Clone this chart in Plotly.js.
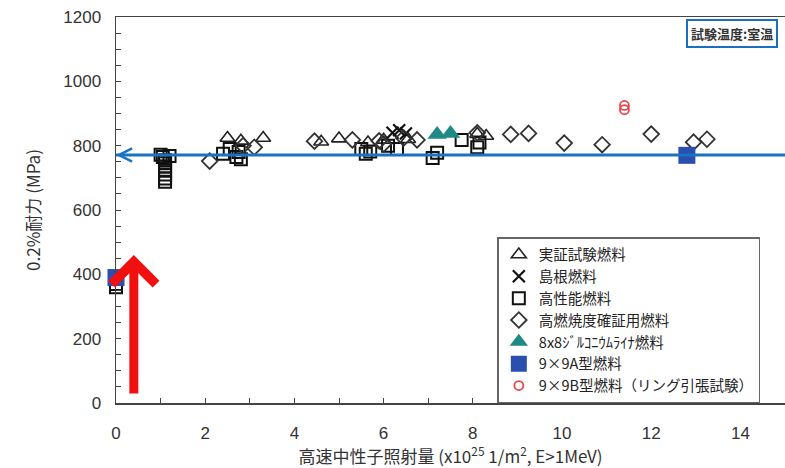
<!DOCTYPE html>
<html><head><meta charset="utf-8">
<script src="https://cdn.plot.ly/plotly-3.0.1.min.js"></script>
<style>html,body{margin:0;padding:0;background:#fff}#chart{width:785px;height:468px}</style>
</head><body><div id="chart"></div>
<script>
// ---- data ----
const seriesNames = ['実証試験燃料','島根燃料','高性能燃料','高燃焼度確証用燃料','8x8ｼﾞﾙｺﾆｳﾑﾗｲﾅ燃料','9×9A型燃料','9×9B型燃料（リング引張試験）'];
const jissho_x = [2.5, 2.8, 3.3, 4.6, 5.0, 5.65, 6.0, 6.55, 8.1, 8.3];
const jissho_y = [824, 815, 824, 812, 822, 810, 818, 820, 836, 830];
const shimane_x = [6.2, 6.35, 6.5];
const shimane_y = [840, 848, 838];
const kouseino_x = [0, 0, 1.0, 1.05, 1.1, 1.1, 1.1, 1.1, 1.1, 1.1, 1.1, 1.2, 2.4, 2.55, 2.7, 2.75, 2.8, 5.5, 5.6, 5.7, 6.1, 6.3, 7.1, 7.2, 7.75, 8.1, 8.15];
const kouseino_y = [360, 370, 772, 765, 755, 745, 735, 722, 710, 698, 688, 768, 775, 790, 765, 780, 758, 790, 775, 782, 800, 790, 762, 778, 818, 795, 810];
const kakusho_x = [2.1, 2.85, 3.1, 4.45, 5.3, 5.9, 6.0, 6.45, 6.75, 8.1, 8.85, 9.25, 10.05, 10.9, 12.0, 12.95, 13.25];
const kakusho_y = [752, 800, 795, 814, 818, 815, 805, 824, 818, 840, 835, 838, 808, 803, 836, 811, 820];
const liner_x = [7.2, 7.5];
const liner_y = [835, 838];
const a9x9_x = [0, 12.8];
const a9x9_y = [390, 770];
const b9x9_x = [11.4, 11.4];
const b9x9_y = [925, 912];
const designValue = 771;          // horizontal blue reference line (MPa)
const redArrow = {x: 0.4, from: 25, to: 460};
const xTickVals = [0, 2, 4, 6, 8, 10, 12, 14];
const yTickVals = [0, 200, 400, 600, 800, 1000, 1200];

const jp = '"Noto Sans CJK JP", "Noto Sans", sans-serif';
const num = '"Liberation Sans", Arial, sans-serif';

const traces = [
  {x: jissho_x, y: jissho_y, name: seriesNames[0], mode: 'markers', type: 'scatter', cliponaxis: false,
   marker: {symbol: 'triangle-up-open', size: 13, color: '#222', line: {width: 1.6}}},
  {x: shimane_x, y: shimane_y, name: seriesNames[1], mode: 'markers', type: 'scatter', cliponaxis: false,
   marker: {symbol: 'x-thin-open', size: 12, color: '#111', line: {width: 2.2, color: '#111'}}},
  {x: kouseino_x, y: kouseino_y, name: seriesNames[2], mode: 'markers', type: 'scatter', cliponaxis: false,
   marker: {symbol: 'square-open', size: 12, color: '#111', line: {width: 2}}},
  {x: kakusho_x, y: kakusho_y, name: seriesNames[3], mode: 'markers', type: 'scatter', cliponaxis: false,
   marker: {symbol: 'diamond-open', size: 12, color: '#333', line: {width: 1.8}}},
  {x: liner_x, y: liner_y, name: seriesNames[4], mode: 'markers', type: 'scatter', cliponaxis: false,
   marker: {symbol: 'triangle-up', size: 17, color: '#1f8a84', line: {width: 0}}},
  {x: a9x9_x, y: a9x9_y, name: seriesNames[5], mode: 'markers', type: 'scatter', cliponaxis: false,
   marker: {symbol: 'square', size: 17, color: '#2b4fae', line: {width: 0}}},
  {x: b9x9_x, y: b9x9_y, name: seriesNames[6], mode: 'markers', type: 'scatter', cliponaxis: false,
   marker: {symbol: 'circle-open', size: 9, color: '#e8474a', line: {width: 1.8}}},
  {x: [0, 15], y: [designValue, designValue], mode: 'lines', type: 'scatter', showlegend: false,
   line: {color: '#1a73c2', width: 3}, hoverinfo: 'skip'}
];

const layout = {
  width: 785, height: 468,
  margin: {l: 116, r: 0, t: 17, b: 65},
  paper_bgcolor: '#fff', plot_bgcolor: '#fff',
  showlegend: true,
  xaxis: {
    range: [0, 15], tickvals: xTickVals, ticks: 'inside', ticklen: 5, tickcolor: '#444',
    minor: {dtick: 1, ticks: 'inside', ticklen: 5, tickcolor: '#444'},
    showline: true, linecolor: '#444', linewidth: 1.5, mirror: true, showgrid: false, zeroline: false,
    tickfont: {family: num, size: 17, color: '#333'}, ticklabelstandoff: 14,
    title: {text: '高速中性子照射量 (x10<sup>25</sup> 1/m<sup>2</sup>, E>1MeV)', font: {family: jp, size: 17, color: '#333'}, standoff: 0}
  },
  yaxis: {
    range: [0, 1200], tickvals: yTickVals, ticks: 'inside', ticklen: 5, tickcolor: '#444',
    minor: {dtick: 50, ticks: 'inside', ticklen: 5, tickcolor: '#444'},
    showline: true, linecolor: '#444', linewidth: 1.5, mirror: true, showgrid: false, zeroline: false,
    tickfont: {family: num, size: 17, color: '#333'}, ticklabelstandoff: 10,
    title: {text: '0.2%耐力 (MPa)', font: {family: jp, size: 17, color: '#333'}, standoff: 18}
  },
  legend: {
    x: 0.57, y: 0.43, xanchor: 'left', yanchor: 'top',
    bgcolor: '#fff', bordercolor: '#666', borderwidth: 1.5,
    font: {family: jp, size: 14.5, color: '#222'}, itemwidth: 30, tracegroupgap: 0
  },
  annotations: [
    {xref: 'x', yref: 'y', axref: 'x', ayref: 'y', x: 0, y: designValue, ax: 15, ay: designValue,
     showarrow: true, arrowhead: 5, arrowsize: 1.3, arrowwidth: 2, arrowcolor: '#1a73c2', text: ''},
    {xref: 'x', yref: 'y', axref: 'x', ayref: 'y', x: redArrow.x, y: redArrow.to, ax: redArrow.x, ay: redArrow.from,
     showarrow: true, arrowhead: 4, arrowsize: 0.95, arrowwidth: 9, arrowcolor: '#f01010', text: ''},
    {xref: 'paper', yref: 'paper', x: 0.99, y: 0.995, xanchor: 'right', yanchor: 'top',
     text: '<b>試験温度:室温</b>', showarrow: false, font: {family: jp, size: 13, color: '#333'},
     bordercolor: '#1a6fc0', borderwidth: 2, borderpad: 3, bgcolor: '#fff'}
  ]
};

Plotly.newPlot('chart', traces, layout, {staticPlot: true});
</script></body></html>
